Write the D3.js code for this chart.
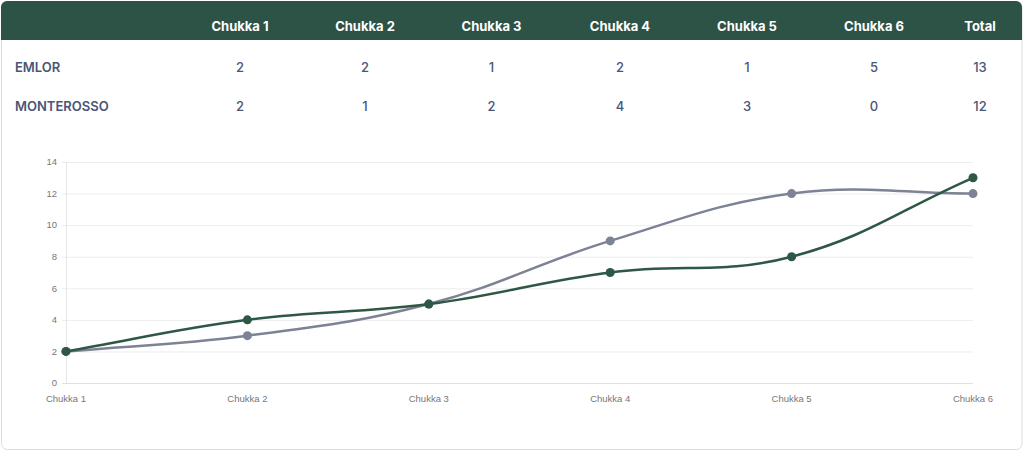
<!DOCTYPE html>
<html>
<head>
<meta charset="utf-8">
<script src="https://cdn.jsdelivr.net/npm/d3@7"></script>
<style>
  html, body { margin: 0; padding: 0; background: #ffffff; }
  svg { display: block; }
</style>
</head>
<body>
<svg id="chart" width="1024" height="452"></svg>
<script>
// ---- Data ----
const categories = ["Chukka 1", "Chukka 2", "Chukka 3", "Chukka 4", "Chukka 5", "Chukka 6"];
const teams = ["EMLOR", "MONTEROSSO"];
const emlorGoals = [2, 2, 1, 2, 1, 5];
const monterossoGoals = [2, 1, 2, 4, 3, 0];
const totals = [13, 12];
const emlorCumulative = [2, 4, 5, 7, 8, 13];
const monterossoCumulative = [2, 3, 5, 9, 12, 12];
const yTicks = [0, 2, 4, 6, 8, 10, 12, 14];
const headerLabels = categories.concat(["Total"]);

// ---- Setup ----
const svg = d3.select("#chart");
const W = 1024, H = 452;

// Card
svg.append("rect")
  .attr("x", 1.5).attr("y", 1.5).attr("width", 1020.5).attr("height", 448)
  .attr("rx", 6).attr("ry", 6)
  .attr("fill", "#ffffff").attr("stroke", "#dcdcdc").attr("stroke-width", 1);

// Header band (rounded top)
const hx0 = 1, hx1 = 1022, hy0 = 1, hy1 = 40, r = 6;
const hp = d3.path();
hp.moveTo(hx0, hy1);
hp.lineTo(hx0, hy0 + r);
hp.arcTo(hx0, hy0, hx0 + r, hy0, r);
hp.lineTo(hx1 - r, hy0);
hp.arcTo(hx1, hy0, hx1, hy0 + r, r);
hp.lineTo(hx1, hy1);
hp.closePath();
svg.append("path").attr("d", hp.toString()).attr("fill", "#2d5246");

// Table columns
const colX = d3.scaleOrdinal()
  .domain(headerLabels)
  .range([240, 365, 491.5, 620, 747, 874, 980]);

const tableFont = "Inter, 'Noto Sans', sans-serif";
svg.append("g").selectAll("text").data(headerLabels).join("text")
  .attr("x", d => colX(d)).attr("y", 31)
  .attr("text-anchor", "middle")
  .attr("font-family", tableFont).attr("font-size", 13).attr("font-weight", 700)
  .attr("fill", "#ffffff")
  .text(d => d);

const rowY = d3.scaleOrdinal().domain(teams).range([72, 111]);
const rowsData = [
  { team: teams[0], values: emlorGoals.concat([totals[0]]) },
  { team: teams[1], values: monterossoGoals.concat([totals[1]]) }
];
const rows = svg.append("g").selectAll("g").data(rowsData).join("g");
rows.append("text")
  .attr("x", 15).attr("y", d => rowY(d.team))
  .attr("font-family", tableFont).attr("font-size", 13).attr("font-weight", 600)
  .attr("fill", "#4a5577")
  .text(d => d.team);
rows.selectAll("text.v").data(d => d.values.map((v, i) => ({ v, col: headerLabels[i], team: d.team })))
  .join("text").attr("class", "v")
  .attr("x", d => colX(d.col)).attr("y", d => rowY(d.team))
  .attr("text-anchor", "middle")
  .attr("font-family", tableFont).attr("font-size", 13).attr("font-weight", 500)
  .attr("fill", "#4a5577")
  .text(d => d.v);

// ---- Line chart ----
const x = d3.scalePoint().domain(categories).range([66, 973]);
const y = d3.scaleLinear().domain([0, 14]).range([383, 162]);
const axisFont = "'Liberation Sans', Arial, Helvetica, sans-serif";

// Grid lines
svg.append("g").selectAll("line").data(yTicks).join("line")
  .attr("x1", 62).attr("x2", 973)
  .attr("y1", d => y(d) + 0.5).attr("y2", d => y(d) + 0.5)
  .attr("stroke", d => d === 0 ? "#e0e0e0" : "#ededed").attr("stroke-width", 1);

// Left axis border
svg.append("line")
  .attr("x1", 66.5).attr("x2", 66.5).attr("y1", y(14)).attr("y2", y(0))
  .attr("stroke", "#e6e6e6").attr("stroke-width", 1);

// Y tick labels
svg.append("g").selectAll("text").data(yTicks).join("text")
  .attr("x", 57).attr("y", d => y(d))
  .attr("dy", "0.35em")
  .attr("text-anchor", "end")
  .attr("font-family", axisFont).attr("font-size", 9.5)
  .attr("fill", "#777777")
  .text(d => d);

// X tick labels
svg.append("g").selectAll("text").data(categories).join("text")
  .attr("x", d => x(d)).attr("y", 402)
  .attr("text-anchor", "middle")
  .attr("font-family", axisFont).attr("font-size", 9.5)
  .attr("fill", "#777777")
  .text(d => d);

// Chart.js-style spline curve (tension 0.4)
function ChartSpline(context) { this._context = context; }
ChartSpline.prototype = {
  areaStart() { this._line = 0; },
  areaEnd() { this._line = NaN; },
  lineStart() { this._pts = []; },
  point(px, py) { this._pts.push([+px, +py]); },
  lineEnd() {
    const p = this._pts, n = p.length, t = 0.4, c = this._context;
    if (!n) return;
    const cps = p.map((p1, i) => {
      const p0 = p[i - 1] || p1, p2 = p[i + 1] || p1;
      const d01 = Math.hypot(p1[0] - p0[0], p1[1] - p0[1]);
      const d12 = Math.hypot(p2[0] - p1[0], p2[1] - p1[1]);
      let s01 = d01 / (d01 + d12), s12 = d12 / (d01 + d12);
      s01 = isNaN(s01) ? 0 : s01; s12 = isNaN(s12) ? 0 : s12;
      const fa = t * s01, fb = t * s12;
      return {
        prev: [p1[0] - fa * (p2[0] - p0[0]), p1[1] - fa * (p2[1] - p0[1])],
        next: [p1[0] + fb * (p2[0] - p0[0]), p1[1] + fb * (p2[1] - p0[1])]
      };
    });
    c.moveTo(p[0][0], p[0][1]);
    for (let i = 1; i < n; i++) {
      c.bezierCurveTo(cps[i - 1].next[0], cps[i - 1].next[1], cps[i].prev[0], cps[i].prev[1], p[i][0], p[i][1]);
    }
  }
};
const chartSpline = ctx => new ChartSpline(ctx);

const line = d3.line()
  .x((d, i) => x(categories[i]))
  .y(d => y(d))
  .curve(chartSpline);

const series = [
  { name: teams[1], values: monterossoCumulative, color: "#7d8294" },
  { name: teams[0], values: emlorCumulative, color: "#2e5746" }
];

const sg = svg.append("g").selectAll("g").data(series).join("g");
sg.append("path")
  .attr("d", d => line(d.values))
  .attr("fill", "none")
  .attr("stroke", d => d.color)
  .attr("stroke-width", 2.5);
sg.selectAll("circle").data(d => d.values.map((v, i) => ({ v, i, color: d.color })))
  .join("circle")
  .attr("cx", d => x(categories[d.i]))
  .attr("cy", d => y(d.v))
  .attr("r", 4.5)
  .attr("fill", d => d.color);
</script>
</body>
</html>
